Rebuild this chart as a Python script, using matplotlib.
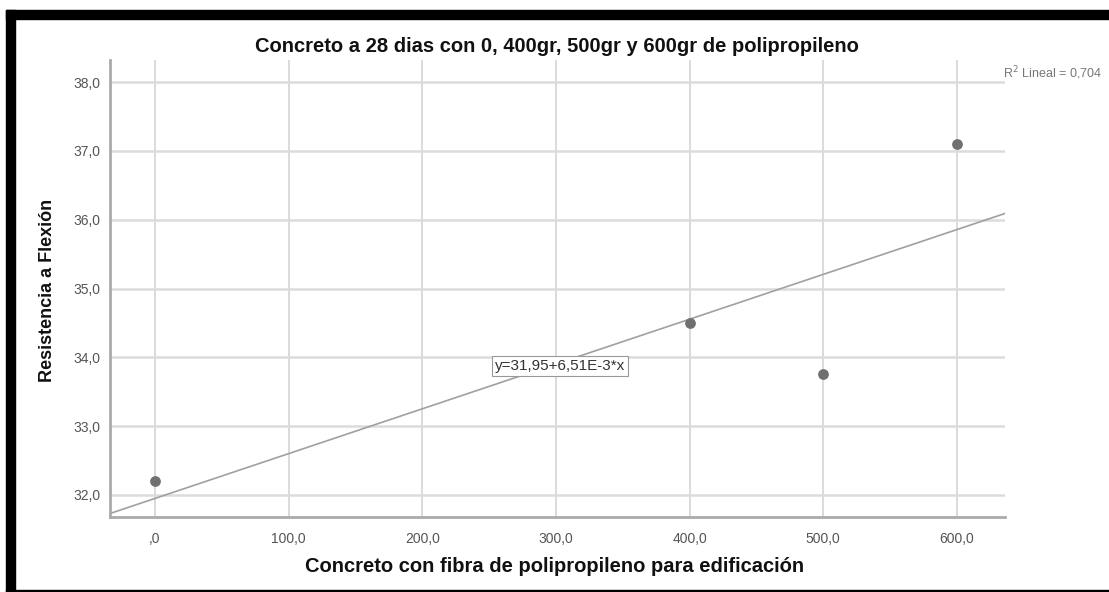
import numpy as np
import matplotlib
matplotlib.use("Agg")
import matplotlib.pyplot as plt
from matplotlib.patches import Rectangle

plt.rcParams['font.family'] = ['Liberation Sans', 'DejaVu Sans']

# data
fibra = [0, 400, 500, 600]
resistencia = [32.2, 34.5, 33.76, 37.1]
xticks = [0, 100, 200, 300, 400, 500, 600]
yticks = [32, 33, 34, 35, 36, 37, 38]
intercepto = 31.95
pendiente = 6.51e-3
r2 = 0.704

fig = plt.figure(figsize=(11.09, 5.92), dpi=100)
ax = fig.add_axes([110 / 1109, 1 - 517 / 592, 895 / 1109, 457 / 592])

ax.set_xlim(-33.7, 636)
ax.set_ylim(31.68, 38.32)

for x in xticks:
    ax.axvline(x, color='#d4d4d4', lw=1.2, zorder=0)
for y in yticks:
    ax.axhline(y, color='#dcdcdc', lw=1.8, zorder=0)

xs = np.array(ax.get_xlim())
ax.plot(xs, intercepto + pendiente * xs, color='#a0a0a0', lw=1.2, zorder=2)
ax.scatter(fibra, resistencia, s=45, color='#707070', zorder=3)

ax.text(303, 33.87, 'y=31,95+6,51E-3*x', ha='center', va='center', fontsize=11,
        color='#333333',
        bbox=dict(boxstyle='square,pad=0.2', fc='white', ec='#999999', lw=0.8))

def fmt(v):
    s = ('%.1f' % v).replace('.', ',')
    return s[1:] if s.startswith('0,') else s

ax.set_xticks(xticks)
ax.set_xticklabels([fmt(v) for v in xticks])
ax.set_yticks(yticks)
ax.set_yticklabels([fmt(v) for v in yticks])
ax.tick_params(length=0, labelsize=10, labelcolor='#555555')
ax.tick_params(axis='x', pad=11)
ax.tick_params(axis='y', pad=7)

for s in ['top', 'right']:
    ax.spines[s].set_visible(False)
for s in ['left', 'bottom']:
    ax.spines[s].set_color('#aaaaaa')
    ax.spines[s].set_linewidth(2)

fig.text(557 / 1109, 1 - 47 / 592, 'Concreto a 28 dias con 0, 400gr, 500gr y 600gr de polipropileno',
         ha='center', va='center', fontsize=14.5, fontweight='bold', color='#111111')
fig.text(555 / 1109, 1 - 566 / 592, 'Concreto con fibra de polipropileno para edificación',
         ha='center', va='center', fontsize=14.5, fontweight='bold', color='#111111')
fig.text(47 / 1109, 1 - 290 / 592, 'Resistencia a Flexión', rotation=90,
         ha='center', va='center', fontsize=13, fontweight='bold', color='#111111')
fig.text(1003 / 1109, 1 - 73 / 592, 'R$^2$ Lineal = ' + ('%.3f' % r2).replace('.', ','),
         ha='left', va='center', fontsize=9, color='#777777')

# black frame around the screenshot
fig.patches.append(Rectangle((6 / 1109, 1 - 19 / 592), 1103 / 1109, 9 / 592,
                             transform=fig.transFigure, color='black'))
fig.patches.append(Rectangle((6 / 1109, 0), 9 / 1109, 1 - 10 / 592,
                             transform=fig.transFigure, color='black'))
fig.patches.append(Rectangle((6 / 1109, 0), 1103 / 1109, 2 / 592,
                             transform=fig.transFigure, color='black'))

fig.savefig('out.png', dpi=100)
